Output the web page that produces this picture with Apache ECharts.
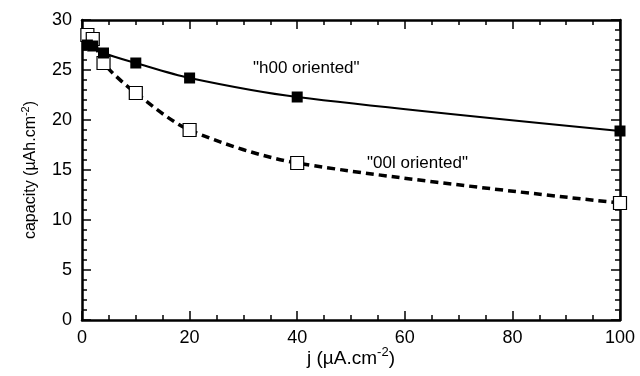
<!DOCTYPE html>
<html>
<head>
<meta charset="utf-8">
<script src="https://cdn.jsdelivr.net/npm/echarts@6/dist/echarts.min.js"></script>
<style>
    html, body { margin: 0; padding: 0; background: #fff; }
    #capacity-chart { width: 640px; height: 376px; }
</style>
</head>
<body>
<div id="capacity-chart"></div>
<script>
// current density j (uA.cm-2)
const currentDensity = [1, 2, 4, 10, 20, 40, 100];
// capacity (uAh.cm-2), filled squares
const h00Capacity = [27.5, 27.4, 26.7, 25.7, 24.2, 22.3, 18.9];
// capacity (uAh.cm-2), open squares
const c00lCapacity = [28.5, 28.1, 25.7, 22.7, 19.0, 15.7, 11.7];

const xTicks = [0, 20, 40, 60, 80, 100];
const yTicks = [0, 5, 10, 15, 20, 25, 30];

const FONT = '"Liberation Sans", Arial, sans-serif';

const toPairs = (xs, ys) => xs.map((x, i) => [x, ys[i]]);

const chart = echarts.init(document.getElementById('capacity-chart'));

// shared look of the four frame axes
const frameAxis = {
    type: 'value',
    axisLine: { show: true, onZero: false, lineStyle: { color: '#000', width: 2.5 } },
    axisTick: { show: true, inside: true, length: 9, lineStyle: { color: '#000', width: 1.5 } },
    minorTick: { show: true, length: 5, lineStyle: { color: '#000', width: 1.5 } },
    splitLine: { show: false },
};

// base text + raised exponent for the axis titles
const titleRich = (size) => ({
    n: { fontSize: size, fontFamily: FONT, color: '#000', lineHeight: size + 6 },
    sup: { fontSize: Math.round(size * 0.68), fontFamily: FONT, color: '#000', lineHeight: size + 6, verticalAlign: 'top', padding: [0, 0, size * 0.55, 0] },
});

const option = {
    animation: false,
    backgroundColor: '#fff',
    grid: { left: 82, right: 20, top: 20, bottom: 56, containLabel: false, outerBoundsMode: 'none' },
    xAxis: [
        {
            ...frameAxis,
            position: 'bottom',
            min: xTicks[0],
            max: xTicks[xTicks.length - 1],
            interval: 20,
            minorTick: { ...frameAxis.minorTick, splitNumber: 4 },
            axisLabel: { color: '#000', fontSize: 18, fontFamily: FONT, margin: 9 },
            name: '{n|j (µA.cm}{sup|-2}{n|)}',
            nameLocation: 'middle',
            nameGap: 26,
            nameMoveOverlap: false,
            nameTextStyle: { rich: titleRich(19) },
        },
        {
            ...frameAxis,
            position: 'top',
            min: xTicks[0],
            max: xTicks[xTicks.length - 1],
            interval: 20,
            minorTick: { ...frameAxis.minorTick, splitNumber: 4 },
            axisLabel: { show: false },
        },
    ],
    yAxis: [
        {
            ...frameAxis,
            position: 'left',
            min: yTicks[0],
            max: yTicks[yTicks.length - 1],
            interval: 5,
            minorTick: { ...frameAxis.minorTick, splitNumber: 5 },
            axisLabel: { color: '#000', fontSize: 18, fontFamily: FONT, margin: 10 },
            name: '{n|capacity (µAh.cm}{sup|-2}{n|)}',
            nameLocation: 'middle',
            nameGap: 40,
            nameMoveOverlap: false,
            nameTextStyle: { rich: titleRich(16) },
        },
        {
            ...frameAxis,
            position: 'right',
            min: yTicks[0],
            max: yTicks[yTicks.length - 1],
            interval: 5,
            minorTick: { ...frameAxis.minorTick, splitNumber: 5 },
            axisLabel: { show: false },
        },
    ],
    series: [
        {
            name: '00l oriented',
            type: 'line',
            data: toPairs(currentDensity, c00lCapacity),
            smooth: 0.3,
            symbol: 'rect',
            symbolSize: 13,
            itemStyle: { color: '#fff', borderColor: '#000', borderWidth: 1.2 },
            lineStyle: { color: '#000', width: 3.5, type: [8, 5] },
            z: 2,
        },
        {
            name: 'h00 oriented',
            type: 'line',
            data: toPairs(currentDensity, h00Capacity),
            smooth: 0.3,
            symbol: 'rect',
            symbolSize: 11,
            itemStyle: { color: '#000', borderColor: '#000', borderWidth: 0 },
            lineStyle: { color: '#000', width: 2 },
            z: 3,
        },
    ],
    graphic: [
        {
            type: 'text',
            left: 253,
            top: 60,
            style: { text: '"h00 oriented"', fill: '#000', font: '17px ' + FONT },
        },
        {
            type: 'text',
            left: 367,
            top: 155,
            style: { text: '"00l oriented"', fill: '#000', font: '17px ' + FONT },
        },
    ],
};

chart.setOption(option);
</script>
</body>
</html>
